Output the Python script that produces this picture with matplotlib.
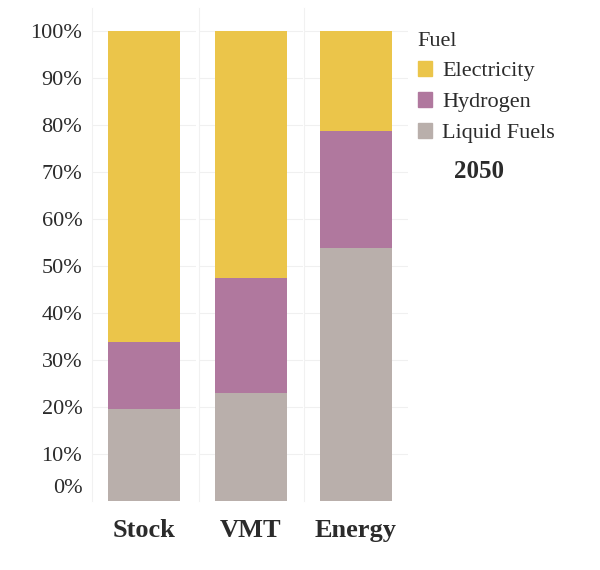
import matplotlib
matplotlib.use("Agg")
import matplotlib.pyplot as plt
from matplotlib.patches import Patch

# ── Data (share of total, 2050) ──────────────────────────────────────────────
CATEGORIES  = ["Stock", "VMT", "Energy"]
LIQUID      = [0.196, 0.230, 0.538]
HYDROGEN    = [0.142, 0.244, 0.249]
ELECTRICITY = [1 - l - h for l, h in zip(LIQUID, HYDROGEN)]
YTICKS      = [0.1, 0.2, 0.3, 0.4, 0.5, 0.6, 0.7, 0.8, 0.9, 1.0]

COLORS = {"Electricity": "#EBC54A", "Hydrogen": "#B0789E", "Liquid Fuels": "#B9AFAB"}
TXT    = "#2b2b2b"
plt.rcParams["font.family"] = ["Liberation Serif", "DejaVu Serif"]

W, H = 600, 570
fig = plt.figure(figsize=(6, 5.7), dpi=100)

# facet geometry in pixels
centers = [144, 251, 356]
facet_w = 104
y0_px, ymax = 69, 1.05
ax_h_px = 470 * ymax

axes = []
for i, cat in enumerate(CATEGORIES):
    left = (centers[i] - facet_w / 2) / W
    ax = fig.add_axes([left, y0_px / H, facet_w / W, ax_h_px / H])
    ax.bar(0, LIQUID[i], 0.69, color=COLORS["Liquid Fuels"], zorder=2)
    ax.bar(0, HYDROGEN[i], 0.69, bottom=LIQUID[i], color=COLORS["Hydrogen"], zorder=2)
    ax.bar(0, ELECTRICITY[i], 0.69, bottom=LIQUID[i] + HYDROGEN[i],
           color=COLORS["Electricity"], zorder=2)
    ax.set_xlim(-0.5, 0.5)
    ax.set_ylim(0, ymax)
    for s in ["top", "right", "bottom"]:
        ax.spines[s].set_visible(False)
    ax.spines["left"].set_color("#f1f1f1")
    ax.spines["left"].set_linewidth(0.8)
    ax.set_yticks(YTICKS)
    for t in YTICKS:
        ax.axhline(t, color="#f0f0f0", lw=0.8, zorder=1)
    ax.set_xticks([0])
    ax.set_xticklabels([cat], fontsize=19, fontweight="bold", color=TXT)
    ax.tick_params(axis="x", length=0, pad=13)
    if i == 0:
        ax.set_yticklabels([f"{int(round(t * 100))}%" for t in YTICKS],
                           fontsize=16, color=TXT)
        ax.tick_params(axis="y", length=0, pad=7)
        ax.annotate("0%", xy=(0, 0), xycoords=ax.get_yaxis_transform(),
                    xytext=(-7, 9), textcoords="offset points",
                    ha="right", va="center", fontsize=16, color=TXT)
    else:
        ax.tick_params(axis="y", length=0, labelleft=False)
    axes.append(ax)

handles = [Patch(color=COLORS[k], label=k) for k in ["Electricity", "Hydrogen", "Liquid Fuels"]]
leg = fig.legend(handles=handles, title="Fuel", loc="upper left",
                 bbox_to_anchor=(402 / W, 1 - 16 / H), frameon=False,
                 fontsize=16, title_fontsize=16, alignment="left",
                 handlelength=0.65, handleheight=0.65, handletextpad=0.45,
                 labelspacing=0.48, borderpad=0.2)
for t in leg.get_texts():
    t.set_color(TXT)
leg.get_title().set_color(TXT)

fig.text(479 / W, 1 - 172 / H, "2050", ha="center", va="center",
         fontsize=18, fontweight="bold", color=TXT)

fig.savefig("out.png", dpi=100)
